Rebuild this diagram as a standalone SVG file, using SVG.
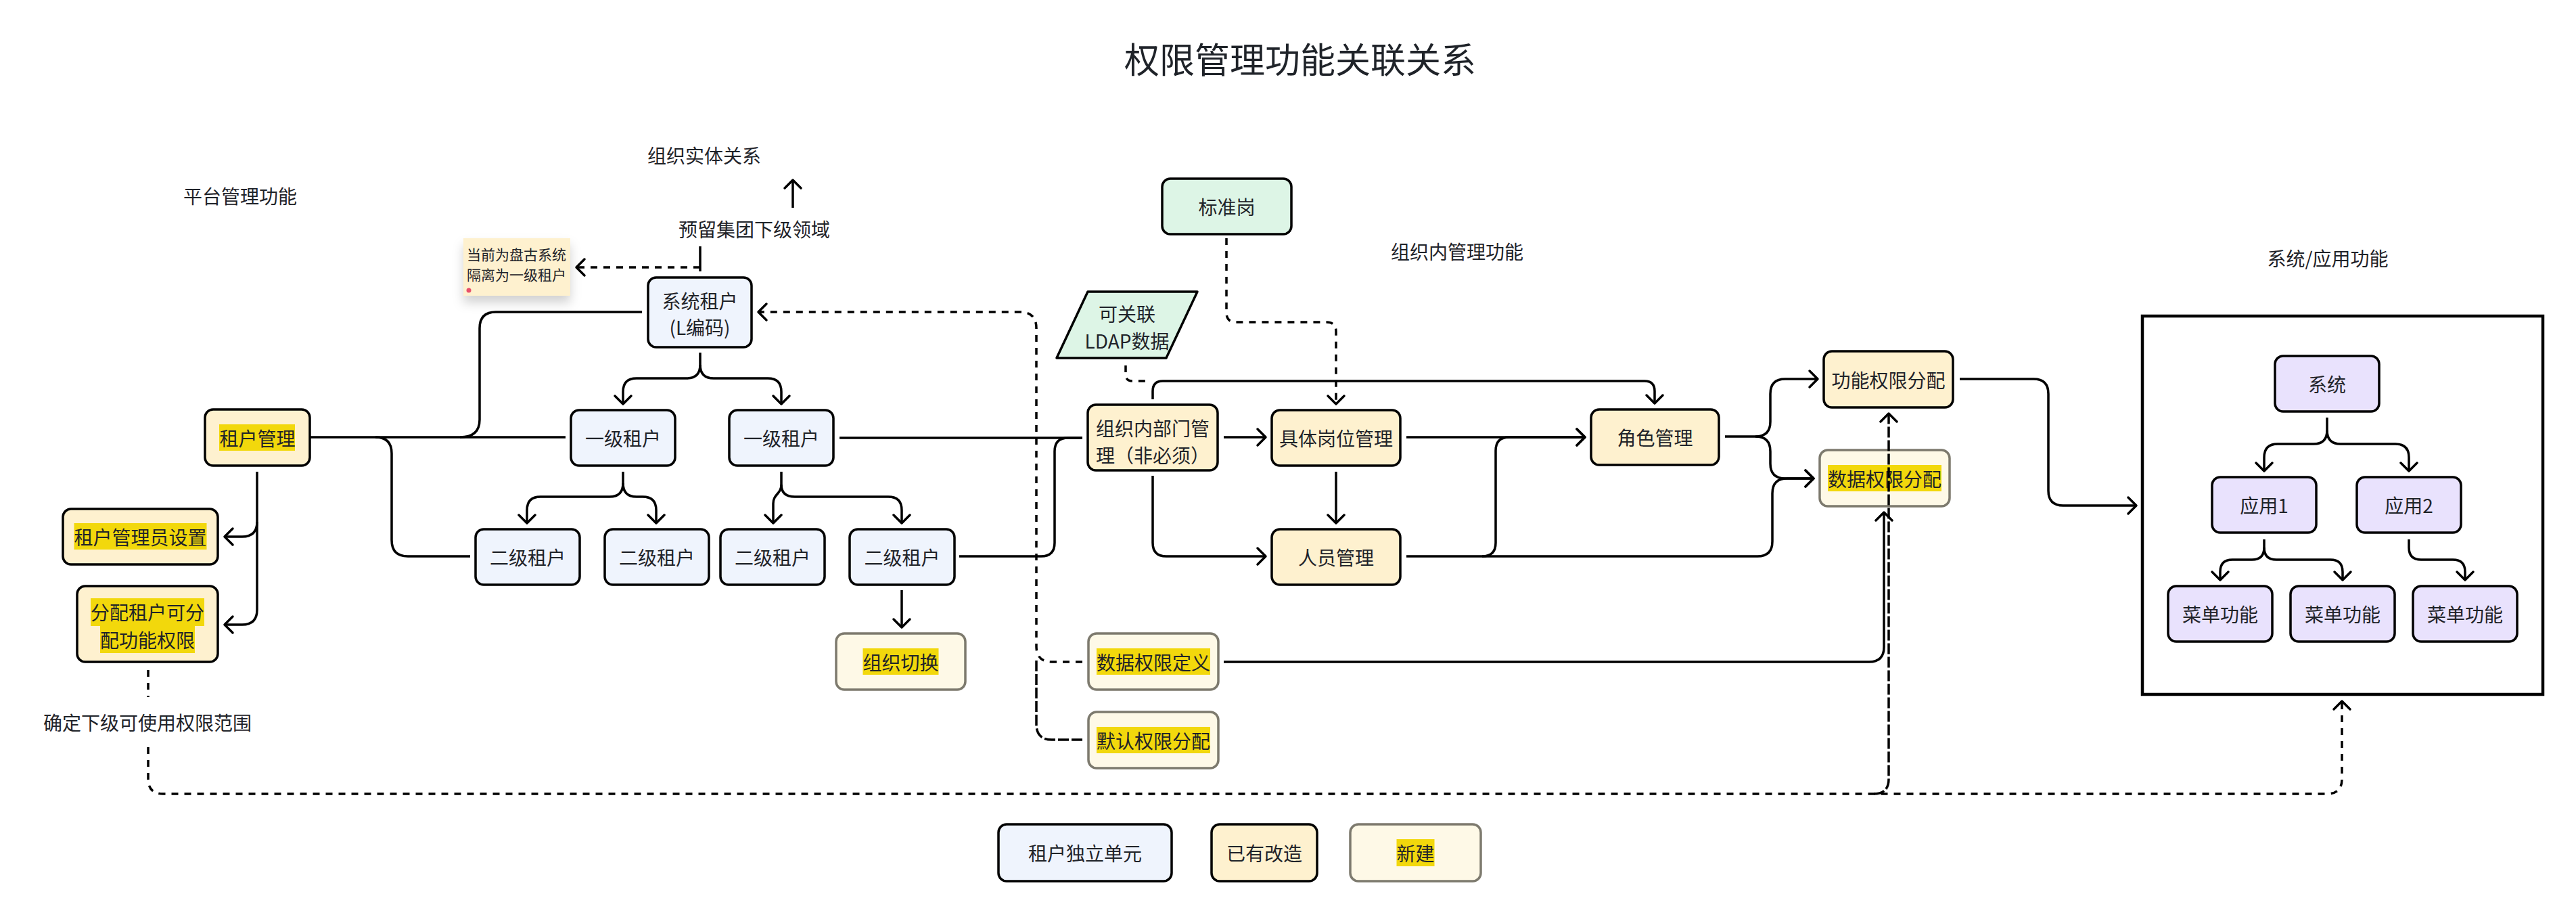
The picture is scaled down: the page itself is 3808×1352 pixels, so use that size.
<svg xmlns="http://www.w3.org/2000/svg" width="3808" height="1352" viewBox="0 0 3808 1352">
<defs>
<style>
text{font-family:"Noto Sans CJK SC","Noto Sans",sans-serif;fill:#1f2329;}
.t{font-size:28px;text-anchor:middle;dominant-baseline:central;}
.lbl{font-size:28px;text-anchor:middle;dominant-baseline:central;}
.blue{fill:#eff4fd;stroke:#000;stroke-width:3.5;}
.cream{fill:#fef1cf;stroke:#000;stroke-width:3.5;}
.new{fill:#fef9e7;stroke:#7d7a6e;stroke-width:3.5;}
.mint{fill:#ddf5e6;stroke:#000;stroke-width:3.5;}
.lav{fill:#e9e2fd;stroke:#000;stroke-width:3.5;}
.hl{fill:#f2d80c;}
.c{fill:none;stroke:#000;stroke-width:3.5;stroke-linejoin:round;}
.d{fill:none;stroke:#000;stroke-width:3.5;stroke-dasharray:10 9;}
.d2{fill:none;stroke:#000;stroke-width:3.5;stroke-dasharray:16 4;}
</style>
<marker id="a" markerUnits="userSpaceOnUse" markerWidth="30" markerHeight="30" refX="15" refY="15" orient="auto">
<path d="M3,3 L15,15 L3,27" fill="none" stroke="#000" stroke-width="3.5" stroke-linecap="round" stroke-linejoin="round"/>
</marker>
<filter id="sh" x="-20%" y="-20%" width="140%" height="160%">
<feDropShadow dx="0" dy="10" stdDeviation="8" flood-color="#000" flood-opacity="0.18"/>
</filter>
</defs>
<rect width="3808" height="1352" fill="#fff"/>

<g id="labels">
<text x="1922" y="85" style="font-size:52px;text-anchor:middle;dominant-baseline:central">权限管理功能关联关系</text>
<text class="lbl" x="355" y="289">平台管理功能</text>
<text class="lbl" x="1041" y="229">组织实体关系</text>
<text class="lbl" x="1115" y="338">预留集团下级领域</text>
<text class="lbl" x="2154" y="371">组织内管理功能</text>
<text class="lbl" x="3441" y="381">系统/应用功能</text>
<text class="lbl" x="218" y="1067">确定下级可使用权限范围</text>
</g>

<g id="note">
<rect x="685" y="352" width="158" height="85" fill="#fef1cf" filter="url(#sh)"/>
<text x="690" y="375" style="font-size:21px;dominant-baseline:central">当前为盘古系统</text>
<text x="690" y="405" style="font-size:21px;dominant-baseline:central">隔离为一级租户</text>
<circle cx="693" cy="429" r="3.5" fill="#e8506a"/>
</g>

<g id="n-tenant-mgmt"><rect class="cream" x="303" y="605" width="155" height="83" rx="12"/><rect class="hl" x="324" y="627" width="112" height="39"/><text class="t" x="380.5" y="646.5">租户管理</text></g>
<g id="n-admin"><rect class="cream" x="93" y="752" width="229" height="82" rx="12"/><rect class="hl" x="109.5" y="773" width="196" height="39"/><text class="t" x="207.5" y="793">租户管理员设置</text></g>
<g id="n-assign"><rect class="cream" x="114" y="866" width="208" height="112" rx="12"/><rect class="hl" x="134" y="884" width="168" height="41"/><rect class="hl" x="148" y="925" width="140" height="40"/><text class="t" x="218" y="904">分配租户可分</text><text class="t" x="218" y="945">配功能权限</text></g>
<g id="n-sys-tenant"><rect class="blue" x="958" y="410" width="153" height="103" rx="12"/><text class="t" x="1034.5" y="444">系统租户</text><text class="t" x="1034.5" y="483">(L编码)</text></g>
<g id="n-l1a"><rect class="blue" x="844" y="606" width="154" height="82" rx="12"/><text class="t" x="921" y="647">一级租户</text></g>
<g id="n-l1b"><rect class="blue" x="1078" y="606" width="154" height="82" rx="12"/><text class="t" x="1155" y="647">一级租户</text></g>
<g id="n-l2a"><rect class="blue" x="703" y="782" width="154" height="82" rx="12"/><text class="t" x="780" y="823">二级租户</text></g>
<g id="n-l2b"><rect class="blue" x="894" y="782" width="154" height="82" rx="12"/><text class="t" x="971" y="823">二级租户</text></g>
<g id="n-l2c"><rect class="blue" x="1065" y="782" width="154" height="82" rx="12"/><text class="t" x="1142" y="823">二级租户</text></g>
<g id="n-l2d"><rect class="blue" x="1256" y="782" width="155" height="82" rx="12"/><text class="t" x="1333.5" y="823">二级租户</text></g>
<g id="n-org-switch"><rect class="new" x="1236" y="936" width="191" height="83" rx="12"/><rect class="hl" x="1275.5" y="958" width="112" height="39"/><text class="t" x="1331.5" y="977.5">组织切换</text></g>
<g id="n-data-def"><rect class="new" x="1609" y="936" width="192" height="83" rx="12"/><rect class="hl" x="1621" y="958" width="168" height="39"/><text class="t" x="1705" y="977.5">数据权限定义</text></g>
<g id="n-default"><rect class="new" x="1609" y="1052" width="192" height="83" rx="12"/><rect class="hl" x="1621" y="1074" width="168" height="39"/><text class="t" x="1705" y="1093.5">默认权限分配</text></g>
<g id="n-std-post"><rect class="mint" x="1718" y="264" width="191" height="82" rx="12"/><text class="t" x="1813.5" y="305">标准岗</text></g>
<g id="n-ldap"><polygon class="mint" points="1608,431 1770,431 1724,529 1562,529" stroke-linejoin="round"/><text class="t" x="1666" y="463">可关联</text><text class="t" x="1666" y="503">LDAP数据</text></g>
<g id="n-dept"><rect class="cream" x="1608" y="598" width="192" height="97" rx="12"/><text class="t" x="1704" y="632">组织内部门管</text><text class="t" x="1704" y="672">理（非必须）</text></g>
<g id="n-post"><rect class="cream" x="1880" y="606" width="190" height="82" rx="12"/><text class="t" x="1975" y="647">具体岗位管理</text></g>
<g id="n-person"><rect class="cream" x="1880" y="782" width="190" height="82" rx="12"/><text class="t" x="1975" y="823">人员管理</text></g>
<g id="n-role"><rect class="cream" x="2352" y="605" width="189" height="82" rx="12"/><text class="t" x="2446.5" y="646">角色管理</text></g>
<g id="n-func-assign"><rect class="cream" x="2696" y="519" width="191" height="83" rx="12"/><text class="t" x="2791.5" y="560.5">功能权限分配</text></g>
<g id="n-data-assign"><rect class="new" x="2690" y="665" width="192" height="83" rx="12"/><rect class="hl" x="2702" y="687" width="168" height="39"/><text class="t" x="2786" y="706.5">数据权限分配</text></g>

<g id="n-sysapp-frame"><rect x="3167" y="467" width="592" height="559" fill="#fff" stroke="#000" stroke-width="4.5"/></g>
<g id="n-system"><rect class="lav" x="3363" y="526" width="154" height="82" rx="12"/><text class="t" x="3440" y="567">系统</text></g>
<g id="n-app1"><rect class="lav" x="3270" y="705" width="154" height="82" rx="12"/><text class="t" x="3347" y="746">应用1</text></g>
<g id="n-app2"><rect class="lav" x="3484" y="705" width="154" height="82" rx="12"/><text class="t" x="3561" y="746">应用2</text></g>
<g id="n-menu1"><rect class="lav" x="3205" y="866" width="154" height="82" rx="12"/><text class="t" x="3282" y="907">菜单功能</text></g>
<g id="n-menu2"><rect class="lav" x="3386" y="866" width="154" height="82" rx="12"/><text class="t" x="3463" y="907">菜单功能</text></g>
<g id="n-menu3"><rect class="lav" x="3567" y="866" width="154" height="82" rx="12"/><text class="t" x="3644" y="907">菜单功能</text></g>

<g id="legend">
<g id="lg-blue"><rect class="blue" x="1476" y="1218" width="256" height="84" rx="12"/><text class="t" x="1604" y="1260">租户独立单元</text></g>
<g id="lg-cream"><rect class="cream" x="1791" y="1218" width="156" height="84" rx="12"/><text class="t" x="1869" y="1260">已有改造</text></g>
<g id="lg-new"><rect class="new" x="1996" y="1218" width="193" height="84" rx="12"/><rect class="hl" x="2064.5" y="1240" width="56" height="40"/><text class="t" x="2092.5" y="1260">新建</text></g>
</g>

<g id="connectors">
<!-- top region -->
<path class="c" d="M1172,307 V266" marker-end="url(#a)"/>
<path class="c" d="M1035,364 V401"/>
<path class="d" d="M1035,395 H852" marker-end="url(#a)"/>
<!-- tenant management -->
<path class="c" d="M458,646 H836"/>
<path class="c" d="M680,646 Q709,646 709,620 V485 Q709,461 733,461 H949"/>
<path class="c" d="M555,646 Q579,646 579,670 V798 Q579,822 603,822 H695"/>
<path class="c" d="M380,697 V771 Q380,793 358,793 H332" marker-end="url(#a)"/>
<path class="c" d="M380,771 V901 Q380,923 358,923 H332" marker-end="url(#a)"/>
<!-- tenant tree -->
<path class="c" d="M1035,521 V539 Q1035,559 1015,559 H941 Q921,559 921,579 V597" marker-end="url(#a)"/>
<path class="c" d="M1035,539 Q1035,559 1055,559 H1135 Q1155,559 1155,579 V597" marker-end="url(#a)"/>
<path class="c" d="M921,697 V714 Q921,734 901,734 H799 Q779,734 779,754 V773" marker-end="url(#a)"/>
<path class="c" d="M921,714 Q921,734 941,734 H950 Q970,734 970,754 V773" marker-end="url(#a)"/>
<path class="c" d="M1155,697 V716 C1155,730 1143,730 1143,744 V773" marker-end="url(#a)"/>
<path class="c" d="M1155,716 Q1155,734 1175,734 H1313 Q1333,734 1333,754 V773" marker-end="url(#a)"/>
<path class="c" d="M1241,647 H1600"/>
<path class="c" d="M1418,822 H1539 Q1559,822 1559,802 V667 Q1559,647 1579,647 H1600"/>
<path class="c" d="M1333,872 V927" marker-end="url(#a)"/>
<!-- dashed back to system tenant -->
<path class="d" d="M1600,978 H1555 Q1532,978 1532,955 V485 Q1532,461 1508,461 H1121" marker-end="url(#a)"/>
<path class="d2" d="M1600,1093 H1555 Q1532,1093 1532,1070 V975"/>
<!-- org internal -->
<path class="c" d="M1809,646 H1871" marker-end="url(#a)"/>
<path class="c" d="M1704,703 V802 Q1704,822 1724,822 H1871" marker-end="url(#a)"/>
<path class="c" d="M1704,590 V578 Q1704,563 1719,563 H2431 Q2446,563 2446,578 V596" marker-end="url(#a)"/>
<path class="d" d="M1664,540 V553 Q1664,563 1674,563 H1700"/>
<path class="d" d="M1813,352 V462 Q1813,476 1827,476 H1961 Q1975,476 1975,490 V597" marker-end="url(#a)"/>
<path class="c" d="M1975,697 V773" marker-end="url(#a)"/>
<path class="c" d="M2079,646 H2343" marker-end="url(#a)"/>
<path class="c" d="M2079,822 H2191 Q2211,822 2211,802 V666 Q2211,646 2231,646 H2343" marker-end="url(#a)"/>
<path class="c" d="M2191,822 H2598 Q2620,822 2620,800 V729 Q2620,707 2642,707 H2681" marker-end="url(#a)"/>
<path class="c" d="M2550,645 H2595 Q2617,645 2617,623 V582 Q2617,560 2639,560 H2687" marker-end="url(#a)"/>
<path class="c" d="M2595,645 Q2617,645 2617,667 V685 Q2617,707 2639,707 H2681" marker-end="url(#a)"/>
<path class="c" d="M2897,560 H3006 Q3028,560 3028,582 V725 Q3028,747 3050,747 H3158" marker-end="url(#a)"/>
<path class="c" d="M1809,978 H2763 Q2785,978 2785,956 V757" marker-end="url(#a)"/>
<!-- bottom dashed -->
<path class="d" d="M219,990 V1030"/>
<path class="d" d="M219,1104 V1151 Q219,1173 241,1173 H3440 Q3462,1173 3462,1151 V1036" marker-end="url(#a)"/>
<path class="d2" d="M2770,1173 Q2792,1173 2792,1151 V611" marker-end="url(#a)"/>
<!-- system/app tree -->
<path class="c" d="M3440,617 V636 Q3440,656 3420,656 H3367 Q3347,656 3347,676 V696" marker-end="url(#a)"/>
<path class="c" d="M3440,636 Q3440,656 3460,656 H3541 Q3561,656 3561,676 V696" marker-end="url(#a)"/>
<path class="c" d="M3347,797 V809 Q3347,827 3329,827 H3300 Q3282,827 3282,845 V857" marker-end="url(#a)"/>
<path class="c" d="M3347,809 Q3347,827 3365,827 H3445 Q3463,827 3463,845 V857" marker-end="url(#a)"/>
<path class="c" d="M3561,797 V809 Q3561,827 3579,827 H3626 Q3644,827 3644,845 V857" marker-end="url(#a)"/>
</g>
</svg>
